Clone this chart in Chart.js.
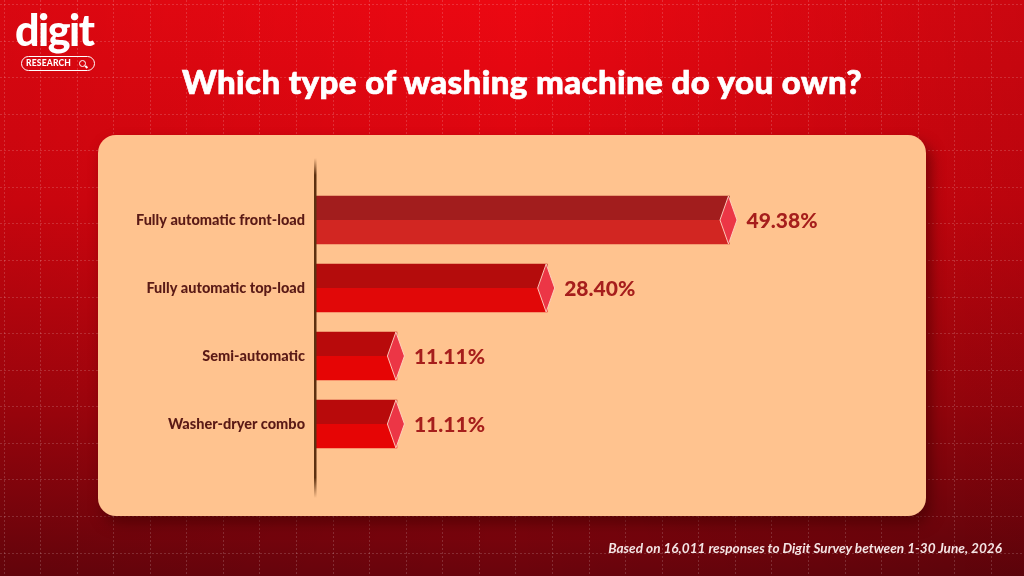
<!DOCTYPE html>
<html lang="en">
<head>
<meta charset="UTF-8">
<title>Which type of washing machine do you own?</title>
<script src="https://cdn.jsdelivr.net/npm/chart.js"></script>
<style>
  html, body { margin: 0; padding: 0; }
  body { width: 1024px; height: 576px; overflow: hidden; position: relative; font-family: Lato, "Open Sans", sans-serif; }
  #bg { position: absolute; left: 0; top: 0; }
  .logo { position: absolute; left: 15px; top: 8px; color: #fff; }
  .logo .word { font-weight: 900; font-size: 43px; line-height: 1; letter-spacing: -1.5px; }
  .logo .pill { position: absolute; left: 6px; top: 48px; width: 68px; height: 13px; border: 1.5px solid #fff; border-radius: 9px;
                font-size: 8.5px; font-weight: 900; line-height: 13px; padding-left: 4px; letter-spacing: 0.2px; }
  .logo .pill i { position: absolute; right: 8px; top: 3px; width: 5px; height: 5px; border: 1.5px solid #fff; border-radius: 50%; }
  .logo .pill i::after { content: ""; position: absolute; left: 5px; top: 5px; width: 3px; height: 1.5px; background: #fff; transform: rotate(45deg); }
  h1 { position: absolute; left: 10px; top: 65px; width: 1024px; margin: 0; text-align: center; color: #fff;
       font-weight: 900; font-size: 33px; letter-spacing: 0.4px; line-height: 1; -webkit-text-stroke: 0.7px #fff; }
  #panel { position: absolute; left: 98px; top: 135px; width: 828px; height: 381px; background: #ffc38f;
           border-radius: 18px; box-shadow: 5px 8px 14px rgba(60, 0, 0, 0.55); }
  #panel .wrap { position: absolute; left: 0; top: 0; width: 828px; height: 381px; }
  .note { position: absolute; right: 22px; top: 540px; color: #f4e4e4; font-style: italic; font-weight: 700; font-size: 13.6px; }
</style>
</head>
<body>
<canvas id="bg" width="1024" height="576"></canvas>
<div class="logo"><div class="word">digit</div><div class="pill">RESEARCH<i></i></div></div>
<h1>Which type of washing machine do you own?</h1>
<div id="panel"><div class="wrap"><canvas id="chart"></canvas></div></div>
<div class="note">Based on 16,011 responses to Digit Survey between 1-30 June, 2026</div>

<script>
  // survey data
  const categories = ['Fully automatic front-load', 'Fully automatic top-load', 'Semi-automatic', 'Washer-dryer combo'];
  const shares = [49.38, 28.40, 11.11, 11.11];
  const shareLabels = ['49.38%', '28.40%', '11.11%', '11.11%'];

  // bar face colours (upper / lower half)
  const topColors = ['#a21d1d', '#b40c0c', '#b80a0b', '#b80a0b'];
  const bottomColors = ['#d22622', '#e10808', '#e60505', '#e60505'];
  const BAR = 48;

  // page background: red gradient with dashed grid
  (function drawBackground() {
    const c = document.getElementById('bg').getContext('2d');
    const g = c.createLinearGradient(0, 0, 0, 576);
    g.addColorStop(0, '#ec0812');
    g.addColorStop(0.35, '#d8050f');
    g.addColorStop(0.7, '#a6040d');
    g.addColorStop(1, '#6a040c');
    c.fillStyle = g;
    c.fillRect(0, 0, 1024, 576);
    const side = c.createLinearGradient(0, 0, 1024, 0);
    side.addColorStop(0, 'rgba(0,0,0,0.08)');
    side.addColorStop(0.5, 'rgba(0,0,0,0)');
    side.addColorStop(1, 'rgba(0,0,0,0.14)');
    c.fillStyle = side;
    c.fillRect(0, 0, 1024, 576);
    c.strokeStyle = 'rgba(255,255,255,0.16)';
    c.lineWidth = 1;
    c.setLineDash([2, 2]);
    const step = 1024 / 28;
    for (let x = 3.5; x < 1024; x += step) {
      c.beginPath(); c.moveTo(Math.round(x) + 0.5, 0); c.lineTo(Math.round(x) + 0.5, 576); c.stroke();
    }
    for (let y = 4; y < 576; y += step) {
      c.beginPath(); c.moveTo(0, Math.round(y) + 0.5); c.lineTo(1024, Math.round(y) + 0.5); c.stroke();
    }
  })();

  // split face gradient for each bar
  function faceColor(ctx) {
    const i = ctx.dataIndex || 0;
    const y = ctx.chart.scales.y;
    if (!y || ctx.type !== 'data') return bottomColors[i];
    const cy = y.getPixelForValue(i);
    if (!isFinite(cy)) return bottomColors[i];
    const g = ctx.chart.ctx.createLinearGradient(0, cy - BAR / 2, 0, cy + BAR / 2);
    g.addColorStop(0, topColors[i]);
    g.addColorStop(0.5, topColors[i]);
    g.addColorStop(0.5, bottomColors[i]);
    g.addColorStop(1, bottomColors[i]);
    return g;
  }

  // axis line, diamond caps and value labels
  const decorations = {
    id: 'decorations',
    afterDatasetsDraw(chart) {
      const c = chart.ctx;
      const area = chart.chartArea;
      const ax = area.left - 1;
      const top = area.top - 28, bottom = area.bottom + 40;
      const lg = c.createLinearGradient(0, top, 0, bottom);
      lg.addColorStop(0, 'rgba(92,48,16,0)');
      lg.addColorStop(0.05, 'rgba(92,48,16,1)');
      lg.addColorStop(0.94, 'rgba(92,48,16,1)');
      lg.addColorStop(1, 'rgba(92,48,16,0)');
      c.save();
      c.fillStyle = lg;
      c.fillRect(ax - 1, top, 2.5, bottom - top);

      chart.getDatasetMeta(0).data.forEach((bar, i) => {
        const cx = bar.x - 1, cy = bar.y, hw = 8.5, hh = bar.height / 2;
        c.beginPath();
        c.moveTo(cx - hw, cy);
        c.lineTo(cx, cy - hh);
        c.lineTo(cx + hw, cy);
        c.lineTo(cx, cy + hh);
        c.closePath();
        c.fillStyle = '#ec3646';
        c.fill();
        c.strokeStyle = 'rgba(255,214,196,0.9)';
        c.lineWidth = 1;
        c.stroke();

        c.fillStyle = '#a61e1c';
        c.font = '900 21px Lato, sans-serif';
        c.textAlign = 'left';
        c.textBaseline = 'middle';
        c.fillText(shareLabels[i], bar.x + 17, cy + 1);
      });
      c.restore();
    }
  };

  new Chart(document.getElementById('chart'), {
    type: 'bar',
    data: {
      labels: categories,
      datasets: [{
        data: shares,
        backgroundColor: faceColor,
        borderWidth: 0,
        barThickness: BAR
      }]
    },
    options: {
      indexAxis: 'y',
      responsive: true,
      maintainAspectRatio: false,
      animation: false,
      events: [],
      layout: { padding: { top: 51, bottom: 58, right: 26, left: 0 } },
      plugins: { legend: { display: false }, tooltip: { enabled: false } },
      scales: {
        x: { display: false, min: 1.8, max: 69 },
        y: {
          grid: { display: false, drawTicks: false },
          border: { display: false },
          ticks: { color: '#5a1a16', padding: 11, font: { family: 'Lato', weight: '900', size: 14.5 } },
          afterFit(scale) { scale.width = 218; }
        }
      }
    },
    plugins: [decorations]
  });
</script>
</body>
</html>
